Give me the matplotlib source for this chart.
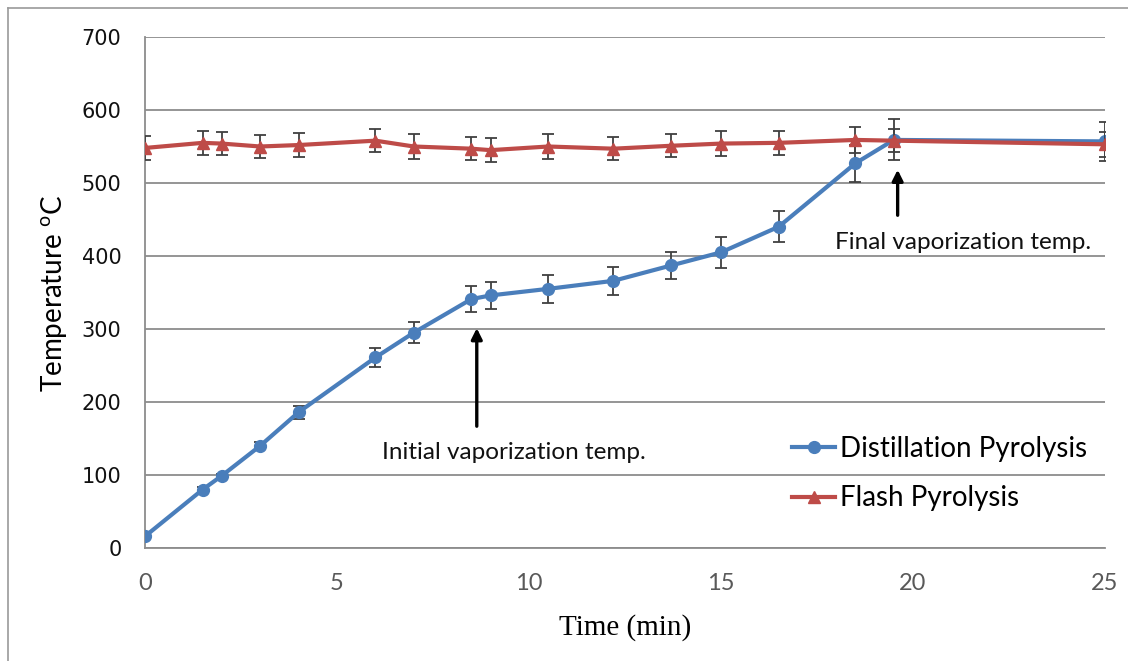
import matplotlib
matplotlib.use("Agg")
import matplotlib.pyplot as plt
from matplotlib.lines import Line2D

plt.rcParams['mathtext.fontset'] = 'custom'
plt.rcParams['mathtext.rm'] = 'Lato'

# ---- data ----
time_min = [0, 1.5, 2, 3, 4, 6, 7, 8.5, 9, 10.5, 12.2, 13.7, 15, 16.5, 18.5, 19.5, 25]
distillation = [16, 80, 99, 140, 186, 261, 295, 341, 346, 355, 366, 387, 405, 440, 527, 559, 557]
distillation_err = [3, 3, 3, 5, 9, 13, 14, 18, 18, 19, 19, 19, 21, 21, 25, 28, 27]
flash = [548, 555, 554, 550, 552, 558, 550, 547, 545, 550, 547, 551, 554, 555, 559, 558, 553]
flash_err = [17, 16, 16, 16, 17, 16, 17, 16, 16, 17, 16, 16, 17, 16, 18, 16, 17]
x_ticks = [0, 5, 10, 15, 20, 25]
y_ticks = [0, 100, 200, 300, 400, 500, 600, 700]
series_names = ["Distillation Pyrolysis", "Flash Pyrolysis"]

BLUE = "#4A7EBB"
RED = "#BE4B48"
ERR = "#404040"
GRID = "#8C8C8C"
SANS = 'Lato'

fig = plt.figure(figsize=(11.28, 6.61), dpi=100)
ax = fig.add_axes([145/1128, 1-548/661, 960/1128, 511/661])

ax.set_xlim(0, 25)
ax.set_ylim(0, 700)
ax.set_xticks(x_ticks)
ax.set_yticks(y_ticks)
ax.grid(axis='y', color=GRID, linewidth=1.3)
ax.set_axisbelow(True)
for s in ['top', 'right']:
    ax.spines[s].set_visible(False)
ax.spines['left'].set_color(GRID)
ax.spines['bottom'].set_color(GRID)
ax.spines['left'].set_linewidth(1.3)
ax.spines['bottom'].set_linewidth(1.3)
ax.tick_params(axis='both', length=0)
ax.tick_params(axis='x', pad=18, labelcolor='#595959', labelsize=17)
ax.tick_params(axis='y', pad=17, labelcolor='#111111', labelsize=15)
for lab in ax.get_xticklabels():
    lab.set_fontfamily(SANS)
for lab in ax.get_yticklabels():
    lab.set_fontfamily('DejaVu Sans')

# series
ax.errorbar(time_min, distillation, yerr=distillation_err, color=BLUE, lw=3,
            marker='o', markersize=8.5, ecolor=ERR, elinewidth=1.3, capsize=4,
            capthick=1.3, zorder=3)
ax.errorbar(time_min, flash, yerr=flash_err, color=RED, lw=3,
            marker='^', markersize=9, ecolor=ERR, elinewidth=1.3, capsize=4,
            capthick=1.3, zorder=4)

# labels
ax.set_xlabel("Time (min)", fontfamily='Liberation Serif', fontsize=21, va='center')
ax.xaxis.set_label_coords(0.5, -0.155)
ax.set_ylabel("Temperature $^{\\rm o}$C", fontfamily=SANS, fontsize=20, va='center')
ax.yaxis.set_label_coords(-0.094, 0.498)

# annotations
ax.annotate("", xy=(8.64, 305), xytext=(8.64, 163),
            arrowprops=dict(arrowstyle='-|>', color='black', lw=2.4, mutation_scale=16))
ax.text(9.6, 131, "Initial vaporization temp.", fontfamily=SANS, fontsize=17.5,
        ha='center', va='center', color='#111111')
ax.annotate("", xy=(19.6, 522), xytext=(19.6, 452),
            arrowprops=dict(arrowstyle='-|>', color='black', lw=2.4, mutation_scale=16))
ax.text(21.3, 418, "Final vaporization temp.", fontfamily=SANS, fontsize=17.5,
        ha='center', va='center', color='#111111')

# legend
handles = [Line2D([], [], color=BLUE, lw=3, marker='o', markersize=8.5),
           Line2D([], [], color=RED, lw=3, marker='^', markersize=9)]
leg = ax.legend(handles, series_names, loc='upper left',
                bbox_to_anchor=((781-145)/960, (548-425)/511), frameon=False,
                prop={'family': SANS, 'size': 20}, handlelength=1.55,
                handletextpad=0.18, labelspacing=0.84, borderaxespad=0)

# figure border (top and left only visible)
fig.add_artist(Line2D([8/1128, 8/1128], [0, 1-8/661], transform=fig.transFigure,
                      color='#9a9a9a', lw=1.2))
fig.add_artist(Line2D([8/1128, 1], [1-8/661, 1-8/661], transform=fig.transFigure,
                      color='#9a9a9a', lw=1.2))

fig.savefig("out.png", dpi=100)
